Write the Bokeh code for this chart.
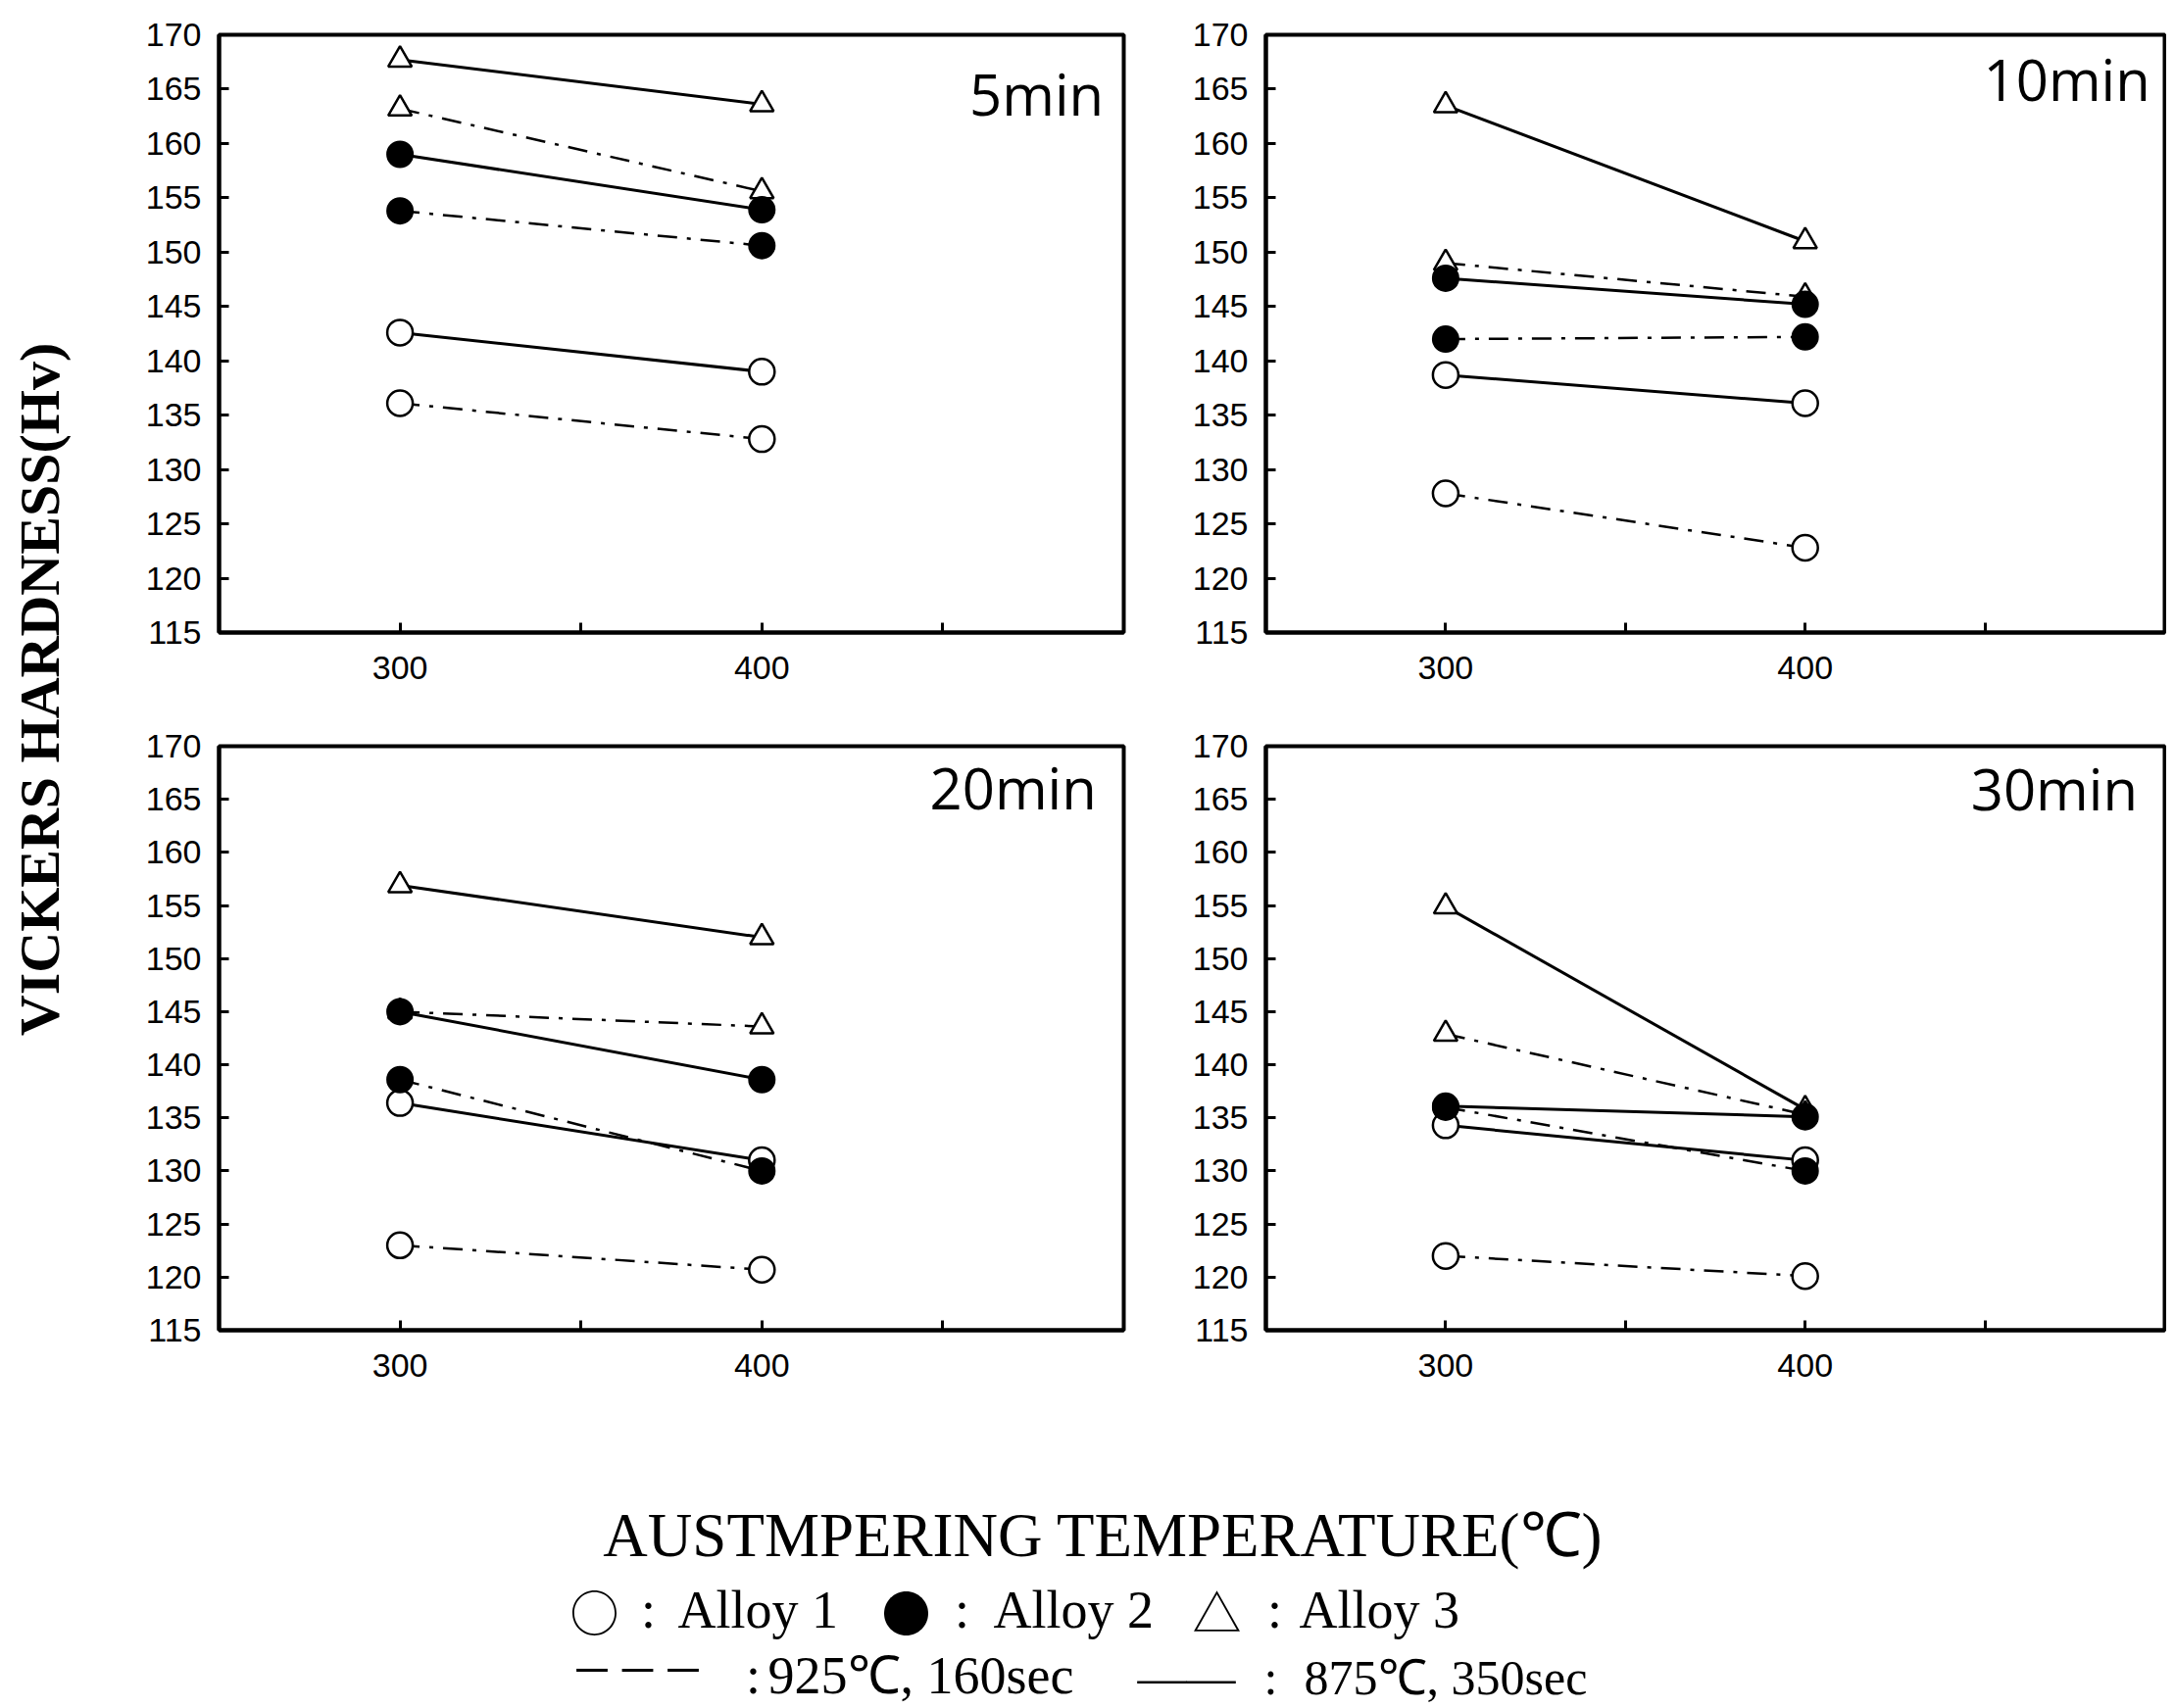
import numpy as np
from bokeh.plotting import figure
from bokeh.layouts import row, column
from bokeh.models import Range1d, FixedTicker
from bokeh.core.properties import value
from bokeh.embed import file_html
from bokeh.resources import INLINE

# ---------------- data ----------------
temps = [300, 400]
panel_names = ["5min", "10min", "20min", "30min"]
y_ticks = [115, 120, 125, 130, 135, 140, 145, 150, 155, 160, 165, 170]
x_ticks = [300, 350, 400, 450]
x_tick_labels = {300: "300", 350: "", 400: "400", 450: ""}

# hardness per panel (5, 10, 20, 30 min) at 300 and 400 C
alloy1_875 = [[142.6, 139.0], [138.7, 136.1], [136.4, 131.0], [134.3, 131.0]]
alloy1_925 = [[136.1, 132.8], [127.8, 122.8], [123.0, 120.7], [122.0, 120.1]]
alloy2_875 = [[159.0, 153.9], [147.6, 145.2], [145.0, 138.6], [136.1, 135.1]]
alloy2_925 = [[153.8, 150.6], [142.0, 142.2], [138.6, 130.0], [136.0, 130.0]]
alloy3_875 = [[167.7, 163.6], [163.5, 151.0], [156.9, 152.0], [154.9, 135.8]]
alloy3_925 = [[163.2, 155.6], [149.0, 145.9], [145.0, 143.6], [142.9, 135.3]]

y_title = "VICKERS HARDNESS(Hv)"
x_title = "AUSTMPERING TEMPERATURE(℃)"

# ---------------- styles ----------------
solid = dict(line_color="black", line_width=3)
dashdot = dict(line_color="black", line_width=2.5, line_dash="20 10 4 10")
open_circle = dict(marker="circle", size=26, fill_color="white", line_color="black", line_width=2.5)
full_circle = dict(marker="circle", size=26, fill_color="black", line_color="black", line_width=2)
open_tri = dict(marker="triangle", size=24, fill_color="white", line_color="black", line_width=2.5)

TICK_FONT = "Liberation Sans"
label_pos_x = [494.5, 496.0, 492.5, 492.5]
label_pos_y = [164.6, 165.9, 166.1, 166.0]


def make_panel(i, width, height, bl, br, bt, bb):
    p = figure(width=width, height=height, title=None,
               x_range=Range1d(250, 500), y_range=Range1d(115, 170),
               output_backend="svg", toolbar_location=None,
               min_border_left=bl, min_border_right=br,
               min_border_top=bt, min_border_bottom=bb)
    p.grid.visible = False
    p.background_fill_color = "white"
    p.border_fill_color = "white"
    p.outline_line_color = "black"
    p.outline_line_width = 4
    p.outline_line_alpha = 1.0
    for ax in (p.xaxis[0], p.yaxis[0]):
        ax.axis_line_width = 4
        ax.axis_line_color = "black"
        ax.major_tick_in = 10
        ax.major_tick_out = 0
        ax.major_tick_line_width = 3
        ax.major_tick_line_color = "black"
        ax.minor_tick_line_color = None
        ax.major_label_text_font = TICK_FONT
        ax.major_label_text_font_size = "34px"
        ax.major_label_text_color = "black"
    p.xaxis.ticker = FixedTicker(ticks=x_ticks)
    p.xaxis.major_label_overrides = x_tick_labels
    p.xaxis.major_label_standoff = 24
    p.yaxis.ticker = FixedTicker(ticks=y_ticks)
    p.yaxis.major_label_standoff = 18

    # lines first
    for series, style in [(alloy1_875, solid), (alloy1_925, dashdot),
                          (alloy2_875, solid), (alloy2_925, dashdot),
                          (alloy3_875, solid), (alloy3_925, dashdot)]:
        p.line(temps, series[i], **style)
    # markers
    for series in (alloy1_875, alloy1_925):
        p.scatter(temps, series[i], **open_circle)
    for series in (alloy3_875, alloy3_925):
        p.scatter(temps, series[i], **open_tri)
    for series in (alloy2_875, alloy2_925):
        p.scatter(temps, series[i], **full_circle)

    p.text(x=[label_pos_x[i]], y=[label_pos_y[i]], text=[panel_names[i]], text_align="right",
           text_baseline="alphabetic", text_color="black",
           text_font=value("Open Sans"), text_font_size=value("58px"))
    return p


p1 = make_panel(0, 1056, 720, 113, 20, 35, 75)
p2 = make_panel(1, 1044, 720, 125, 2, 35, 75)
p3 = make_panel(2, 1056, 712, 113, 20, 41, 75)
p4 = make_panel(3, 1044, 712, 125, 2, 41, 75)

# left strip with the y title
strip = figure(width=110, height=1432, x_range=Range1d(0, 110), y_range=Range1d(0, 1432),
               output_backend="svg", toolbar_location=None, min_border=0, title=None,
               x_axis_type=None, y_axis_type=None)
strip.grid.visible = False
strip.outline_line_color = None
strip.text(x=[40], y=[729], text=[y_title], angle=np.pi / 2, text_align="center",
           text_baseline="middle", text_color="black",
           text_font=value("Liberation Serif"), text_font_style="bold",
           text_font_size=value("58px"))

# bottom strip with x title and legend
BH = 308
bottom = figure(width=2210, height=BH, x_range=Range1d(0, 2210), y_range=Range1d(0, BH),
                output_backend="svg", toolbar_location=None, min_border=0, title=None,
                x_axis_type=None, y_axis_type=None)
bottom.grid.visible = False
bottom.outline_line_color = None

serif = value("Liberation Serif")
cjk = value("Noto Sans CJK KR")
bottom.text(x=[1125], y=[174], text=[x_title], text_align="center", text_baseline="alphabetic",
            text_color="black", text_font=serif, text_font_size=value("63px"))

# legend line 1: symbols
sym_text = ["○", "●", "△"]
sym_x = [581, 899, 1216]
bottom.text(x=sym_x, y=[98] * 3, text=sym_text, text_align="left",
            text_baseline="alphabetic", text_color="black", text_font=cjk,
            text_font_size=value("50px"))
# legend line 1: labels
l1_text = [":", "Alloy 1", ":", "Alloy 2", ":", "Alloy 3"]
l1_x = [661, 691, 981, 1013, 1300, 1325]
l1_align = ["center", "left", "center", "left", "center", "left"]
bottom.text(x=l1_x, y=[98] * len(l1_x), text=l1_text, text_align=l1_align,
            text_baseline="alphabetic", text_color="black", text_font=serif,
            text_font_size=value("54px"))

# legend line 2
bottom.text(x=[588], y=[43], text=["– – –"], text_align="left",
            text_baseline="alphabetic", text_color="black", text_font=serif,
            text_font_size=value("62px"))
l2a_text = [":", "925℃, 160sec"]
l2a_x = [768, 783]
l2_align = ["center", "left"]
bottom.text(x=l2a_x, y=[31] * 2, text=l2a_text, text_align=l2_align,
            text_baseline="alphabetic", text_color="black", text_font=serif,
            text_font_size=value("54px"))
l2b_text = ["——", ":", "875℃, 350sec"]
l2b_x = [1160, 1296, 1330]
bottom.text(x=l2b_x, y=[29] * 3, text=l2b_text, text_align=["left", "center", "left"],
            text_baseline="alphabetic", text_color="black", text_font=serif,
            text_font_size=value("50px"))

layout = column(row(strip, column(row(p1, p2), row(p3, p4))), bottom)

open("out.html", "w").write(file_html(layout, INLINE))
